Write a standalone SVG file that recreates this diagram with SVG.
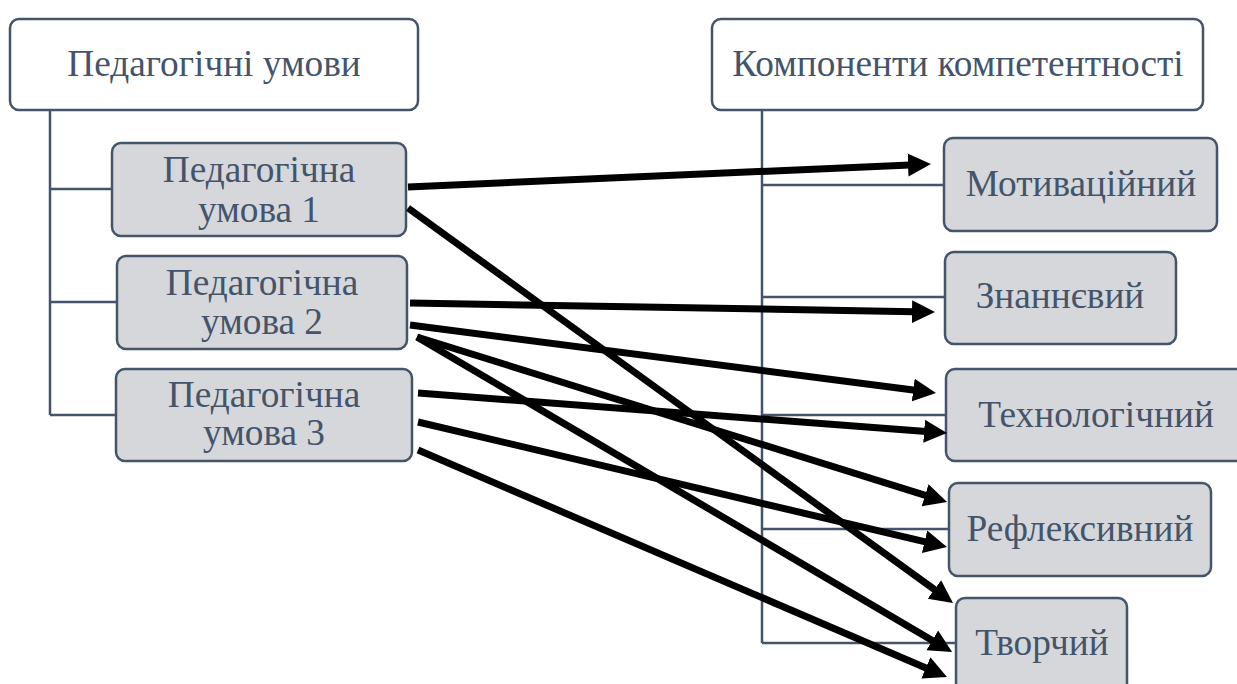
<svg xmlns="http://www.w3.org/2000/svg" width="1237" height="684" viewBox="0 0 1237 684">
<style>
.box{stroke:#44546a;stroke-width:2.5}
.head{fill:#ffffff}
.child{fill:#d5d7db}
.t{font-family:"Liberation Serif","Times New Roman",serif;font-size:37.3px;fill:#44546a;text-anchor:middle}
.tree{stroke:#44546a;stroke-width:2.5;fill:none}
.arr{stroke:#000000;stroke-width:7;fill:none;marker-end:url(#ah)}
</style>
<defs>
<marker id="ah" markerUnits="userSpaceOnUse" markerWidth="26" markerHeight="26" viewBox="0 -13 26 26" refX="2" refY="0" orient="auto">
<path d="M0,-11.5 L23,0 L0,11.5 z" fill="#000000"/>
</marker>
</defs>
<rect width="1237" height="684" fill="#ffffff"/>
<g id="tree-lines">
<path class="tree" d="M50,110 V415 M50,189 H112 M50,302 H117 M50,415 H116"/>
<path class="tree" d="M762,110 V643 M762,185 H944 M762,297 H945 M762,415 H946 M762,529 H949 M762,643 H956"/>
</g>
<g id="n-ped-umovy">
<rect class="box head" x="10" y="19" width="408" height="91" rx="9"/>
<text class="t" x="214" y="76">Педагогічні умови</text>
</g>
<g id="n-umova1">
<rect class="box child" x="112" y="143" width="294" height="93" rx="9"/>
<text class="t" x="259" y="182">Педагогічна</text>
<text class="t" x="259" y="222">умова 1</text>
</g>
<g id="n-umova2">
<rect class="box child" x="117" y="256" width="290" height="93" rx="9"/>
<text class="t" x="262" y="295">Педагогічна</text>
<text class="t" x="262" y="334">умова 2</text>
</g>
<g id="n-umova3">
<rect class="box child" x="116" y="369" width="296" height="92" rx="9"/>
<text class="t" x="264" y="407">Педагогічна</text>
<text class="t" x="264" y="445">умова 3</text>
</g>
<g id="n-komponenty">
<rect class="box head" x="712" y="19" width="491" height="91" rx="9"/>
<text class="t" x="958" y="76">Компоненти компетентності</text>
</g>
<g id="n-motyv">
<rect class="box child" x="944" y="138" width="273" height="93" rx="9"/>
<text class="t" x="1081" y="196">Мотиваційний</text>
</g>
<g id="n-znann">
<rect class="box child" x="945" y="252" width="231" height="92" rx="9"/>
<text class="t" x="1060" y="308">Знаннєвий</text>
</g>
<g id="n-tekhn">
<rect class="box child" x="946" y="369" width="300" height="92" rx="9"/>
<text class="t" x="1096" y="427">Технологічний</text>
</g>
<g id="n-refl">
<rect class="box child" x="949" y="483" width="262" height="93" rx="9"/>
<text class="t" x="1080" y="541">Рефлексивний</text>
</g>
<g id="n-tvorch">
<rect class="box child" x="956" y="598" width="171" height="100" rx="9"/>
<text class="t" x="1042" y="655">Творчий</text>
</g>
<g id="connectors">
<line class="arr" x1="408" y1="187" x2="910" y2="164.9"/>
<line class="arr" x1="408" y1="208" x2="936" y2="590.7"/>
<line class="arr" x1="410" y1="303" x2="914" y2="311.7"/>
<line class="arr" x1="410" y1="325" x2="915.2" y2="390.3"/>
<line class="arr" x1="417" y1="337" x2="927" y2="495.8"/>
<line class="arr" x1="417" y1="337" x2="934" y2="641.4"/>
<line class="arr" x1="418" y1="393" x2="926.1" y2="431.4"/>
<line class="arr" x1="418" y1="422" x2="926.5" y2="542.2"/>
<line class="arr" x1="418" y1="450" x2="927.7" y2="668.7"/>
</g>
</svg>
